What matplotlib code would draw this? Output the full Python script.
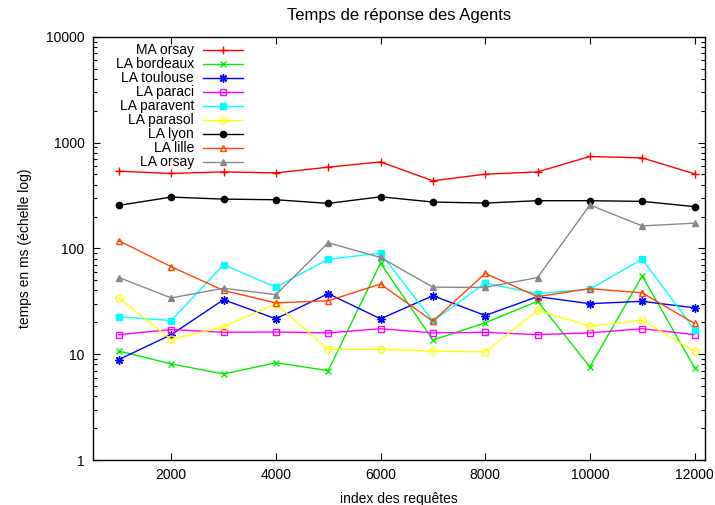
import matplotlib
matplotlib.use("Agg")
import matplotlib.pyplot as plt
from matplotlib.ticker import LogLocator, NullFormatter, FixedLocator

plt.rcParams['font.family'] = ['Liberation Sans', 'DejaVu Sans']
plt.rcParams['font.size'] = 10

# index des requetes
requetes = [1000, 2000, 3000, 4000, 5000, 6000, 7000, 8000, 9000, 10000, 11000, 12000]

# temps de reponse (ms)
ma_orsay = [536, 510, 528, 517, 585, 656, 435, 502, 528, 738, 716, 506]
la_bordeaux = [10.7, 8.1, 6.5, 8.3, 7.0, 72.6, 13.6, 19.8, 31.6, 7.6, 55, 7.45]
la_toulouse = [8.9, 15.3, 32.7, 21.6, 37.3, 21.6, 35.7, 23.2, 35, 30, 31.6, 27.4]
la_paraci = [15.3, 17.1, 16.1, 16.2, 15.9, 17.4, 15.9, 16.1, 15.3, 15.9, 17.4, 15.3]
la_paravent = [22.5, 20.8, 70, 43, 79, 90, 20.5, 47, 37.3, 41.3, 79, 17.1]
la_parasol = [34, 13.8, 18.1, 30, 11.1, 11.1, 10.7, 10.5, 26, 18.4, 20.9, 10.7]
la_lyon = [255, 305, 292, 288, 266, 307, 274, 268, 282, 282, 278, 248]
la_lille = [118, 67, 40, 30.5, 32, 46, 20.5, 58, 35, 41.6, 38, 19.5]
la_orsay = [53, 34, 42, 36.5, 113, 82, 43, 42.7, 53, 257, 163, 173]

# nom, valeurs, couleur, marqueur, remplissage, taille
series = [
    ("MA orsay", ma_orsay, "#ff0000", "+", "#ff0000", 6),
    ("LA bordeaux", la_bordeaux, "#00ee00", "x", "#00ee00", 5),
    ("LA toulouse", la_toulouse, "#0000ff", (8, 2, 0), "#0000ff", 6),
    ("LA paraci", la_paraci, "#ff00ff", "s", "none", 4.5),
    ("LA paravent", la_paravent, "#00ffff", "s", "#00ffff", 4.5),
    ("LA parasol", la_parasol, "#ffff00", "o", "none", 5),
    ("LA lyon", la_lyon, "#000000", "o", "#000000", 4.5),
    ("LA lille", la_lille, "#ff4500", "^", "none", 5),
    ("LA orsay", la_orsay, "#888888", "^", "#888888", 4.5),
]

fig = plt.figure(figsize=(7.15, 5.05), dpi=100)
ax = fig.add_axes([0.1297, 0.0891, 0.8563, 0.8382])

for i, (name, vals, col, mk, face, ms) in enumerate(series):
    ax.plot(requetes, vals, color=col, lw=1.0, marker=mk, ms=ms,
            mfc=face, mec=col, mew=1.0)
    # legende a la gnuplot : texte aligne a droite, echantillon a droite
    y = 0.9686 - i * 0.0331
    ax.text(0.1654, y, name, transform=ax.transAxes, ha='right', va='center')
    ax.plot([0.180, 0.2455], [y, y], transform=ax.transAxes, color=col, lw=1.0)
    ax.plot([0.2128], [y], transform=ax.transAxes, color=col, marker=mk,
            ms=ms, mfc=face, mec=col, mew=1.0)

ax.set_yscale('log')
ax.set_ylim(1, 10000)
ax.set_xlim(500, 12200)
ax.xaxis.set_major_locator(FixedLocator([2000, 4000, 6000, 8000, 10000, 12000]))
ax.yaxis.set_major_locator(FixedLocator([1, 10, 100, 1000, 10000]))
ax.set_yticklabels(["1", "10", "100", "1000", "10000"])
ax.yaxis.set_minor_locator(LogLocator(base=10, subs=range(2, 10)))
ax.yaxis.set_minor_formatter(NullFormatter())

ax.tick_params(which='both', direction='in', top=True, right=True)
ax.tick_params(which='major', length=5, width=0.8, pad=6)
ax.tick_params(which='minor', length=3, width=0.8)
for sp in ax.spines.values():
    sp.set_linewidth(1.0)

ax.set_title("Temps de réponse des Agents", pad=12)
ax.set_xlabel("index des requêtes", labelpad=7)
ax.set_ylabel("temps en ms (échelle log)", labelpad=10)

fig.savefig("out.png", dpi=100)
